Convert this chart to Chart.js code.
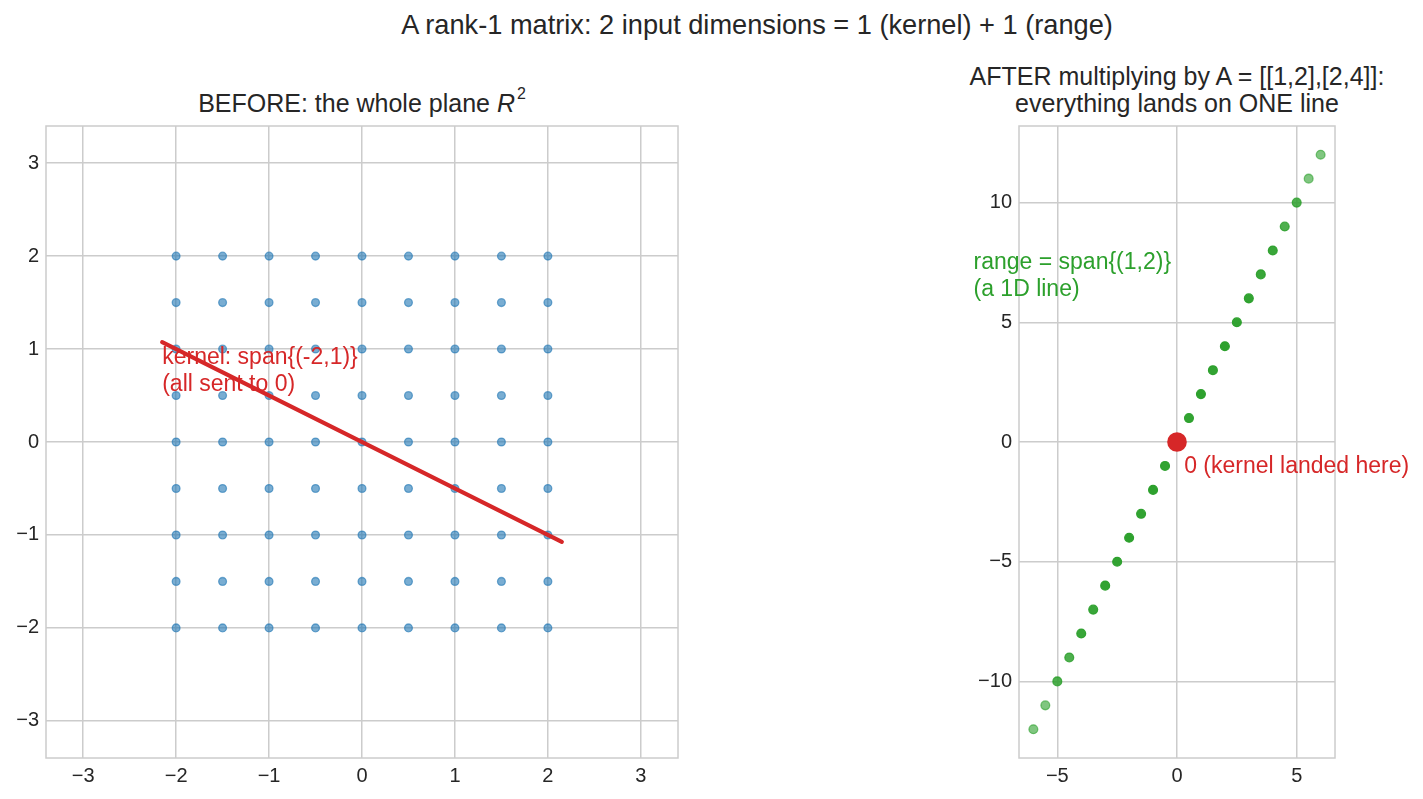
<!DOCTYPE html>
<html>
<head>
<meta charset="utf-8">
<script src="https://cdn.jsdelivr.net/npm/chart.js@4.4.1/dist/chart.umd.min.js"></script>
<style>
  html, body { margin: 0; padding: 0; background: #fff; }
  body { width: 1423px; height: 799px; position: relative; overflow: hidden;
         font-family: 'Liberation Sans', Arial, sans-serif; color: #262626; }
  .title { position: absolute; white-space: nowrap; transform: translateX(-50%); text-align: center; }
  #suptitle { left: 757px; top: 9px; font-size: 27.2px; }
  #title-left { left: 362px; top: 89px; font-size: 25px; }
  #title-right { left: 1177px; top: 63px; font-size: 25px; line-height: 26.7px; }
  #title-left sup { font-size: 16px; position: relative; top: -4px; margin-left: 2px; }
  #left-wrap { position: absolute; left: 0; top: 0; width: 700px; height: 799px; }
  #right-wrap { position: absolute; left: 940px; top: 0; width: 483px; height: 799px; }
</style>
</head>
<body>
<div id="suptitle" class="title">A rank-1 matrix: 2 input dimensions = 1 (kernel) + 1 (range)</div>
<div id="title-left" class="title">BEFORE: the whole plane <i>R</i><sup>2</sup></div>
<div id="title-right" class="title">AFTER multiplying by A = [[1,2],[2,4]]:<br>everything lands on ONE line</div>
<div id="left-wrap"><canvas id="before"></canvas></div>
<div id="right-wrap"><canvas id="after"></canvas></div>
<script>
// grid of input points (left panel)
const gridX = [-2, -1.5, -1, -0.5, 0, 0.5, 1, 1.5, 2];
const gridY = [-2, -1.5, -1, -0.5, 0, 0.5, 1, 1.5, 2];
// kernel line endpoints
const kernelX = [-2.15, 2.15];
const kernelY = [1.075, -1.075];

// images on the range line (right panel) and how many inputs land on each
const rangeX = [-6, -5.5, -5, -4.5, -4, -3.5, -3, -2.5, -2, -1.5, -1, -0.5, 0,
                0.5, 1, 1.5, 2, 2.5, 3, 3.5, 4, 4.5, 5, 5.5, 6];
const rangeY = [-12, -11, -10, -9, -8, -7, -6, -5, -4, -3, -2, -1, 0,
                1, 2, 3, 4, 5, 6, 7, 8, 9, 10, 11, 12];
const rangeCounts = [1, 1, 2, 2, 3, 3, 4, 4, 5, 4, 5, 4, 5,
                     4, 5, 4, 5, 4, 4, 3, 3, 2, 2, 1, 1];

const leftTicks = [-3, -2, -1, 0, 1, 2, 3];
const rightXTicks = [-5, 0, 5];
const rightYTicks = [-10, -5, 0, 5, 10];

const BLUE = 'rgba(31,119,180,0.6)';
const RED = '#d62728';
const GREEN_RGB = '44,160,44';
const GRID = '#cccccc';
const FONT = "'Liberation Sans', Arial, sans-serif";

const fmt = v => String(v).replace('-', '\u2212');

function axis(min, max, ticks, size, isX) {
  return {
    type: 'linear',
    min, max,
    afterBuildTicks: s => { s.ticks = ticks.map(v => ({ value: v })); },
    afterFit: s => { if (isX) s.height = size; else s.width = size; },
    grid: { color: GRID, lineWidth: 1.5, drawTicks: false },
    border: { display: false },
    ticks: {
      color: '#262626', padding: isX ? 6 : 7,
      font: { family: FONT, size: 20 },
      callback: v => fmt(v),
    },
  };
}

// frame around plot area plus text annotations
function framePlugin(notes) {
  return {
    id: 'frame',
    afterDraw(chart) {
      const { ctx, chartArea: a, scales } = chart;
      ctx.save();
      ctx.strokeStyle = GRID;
      ctx.lineWidth = 1.5;
      ctx.strokeRect(a.left, a.top, a.right - a.left, a.bottom - a.top);
      ctx.font = `23px ${FONT}`;
      ctx.textBaseline = 'alphabetic';
      ctx.textAlign = 'left';
      for (const n of notes) {
        ctx.fillStyle = n.color;
        const px = scales.x.getPixelForValue(n.x);
        const py = scales.y.getPixelForValue(n.y) + n.dy;
        n.lines.forEach((t, i) => ctx.fillText(t, px, py + i * 26.6));
      }
      ctx.restore();
    },
  };
}

const gridPoints = [];
for (const y of gridY) for (const x of gridX) gridPoints.push({ x, y });

new Chart(document.getElementById('before'), {
  type: 'scatter',
  data: {
    datasets: [
      {
        type: 'line',
        data: kernelX.map((x, i) => ({ x, y: kernelY[i] })),
        borderColor: RED, borderWidth: 4.2, pointRadius: 0, showLine: true,
        borderCapStyle: 'round', order: 0,
      },
      {
        data: gridPoints,
        backgroundColor: BLUE, borderColor: BLUE, borderWidth: 1.3,
        pointRadius: 3.9, order: 1,
      },
    ],
  },
  options: {
    responsive: true, maintainAspectRatio: false, animation: false,
    layout: { padding: { left: 0, top: 126, right: 22, bottom: 0 } },
    plugins: { legend: { display: false }, tooltip: { enabled: false } },
    scales: {
      x: axis(-3.4, 3.4, leftTicks, 41, true),
      y: axis(-3.4, 3.4, leftTicks, 46, false),
    },
  },
  plugins: [framePlugin([
    { x: -2.15, y: 1.0, dy: 15, color: RED,
      lines: ['kernel: span{(-2,1)}', '(all sent to 0)'] },
  ])],
});

const greens = rangeCounts.map(n => `rgba(${GREEN_RGB},${(1 - Math.pow(0.4, n)).toFixed(3)})`);

new Chart(document.getElementById('after'), {
  type: 'scatter',
  data: {
    datasets: [
      {
        data: [{ x: 0, y: 0 }],
        backgroundColor: RED, borderColor: RED, pointRadius: 9.8, borderWidth: 0,
        order: 0,
      },
      {
        data: rangeX.map((x, i) => ({ x, y: rangeY[i] })),
        pointBackgroundColor: greens, pointBorderColor: greens, borderWidth: 1.3,
        pointRadius: 4.4, order: 1,
      },
    ],
  },
  options: {
    responsive: true, maintainAspectRatio: false, animation: false,
    layout: { padding: { left: 0, top: 126, right: 88, bottom: 0 } },
    plugins: { legend: { display: false }, tooltip: { enabled: false } },
    scales: {
      x: axis(-6.6, 6.6, rightXTicks, 41, true),
      y: axis(-13.2, 13.2, rightYTicks, 79, false),
    },
  },
  plugins: [framePlugin([
    { x: -8.5, y: 7, dy: -5.3, color: '#2ca02c',
      lines: ['range = span{(1,2)}', '(a 1D line)'] },
    { x: 0.3, y: -0.5, dy: 18.7, color: RED,
      lines: ['0 (kernel landed here)'] },
  ])],
});
</script>
</body>
</html>
